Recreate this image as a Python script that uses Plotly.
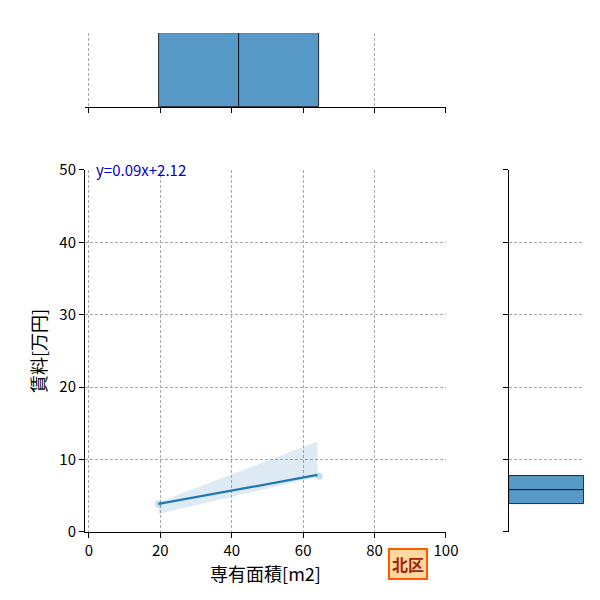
import plotly.graph_objects as go

area = [19.5, 64.5]
rent = [3.9, 7.7]
fit_x = [19.5, 64.0]
fit_y = [3.875, 7.88]
band_x = [19.5, 64.0, 64.0, 19.5]
band_y = [4.1, 12.5, 7.6, 2.5]
hx_edges = [19.5, 42.0, 64.5]
hx_counts = [1, 1]
hy_edges = [3.9, 5.8, 7.7]
hy_counts = [1, 1]

blue = "#5799c7"
font = "Noto Sans CJK JP"
fig = go.Figure()

fig.add_trace(go.Scatter(x=band_x, y=band_y, fill="toself", mode="none",
                         fillcolor="rgba(31,119,180,0.15)", xaxis="x", yaxis="y"))
fig.add_trace(go.Scatter(x=area, y=rent, mode="markers",
                         marker=dict(color="rgba(31,119,180,0.25)", size=7), xaxis="x", yaxis="y"))
fig.add_trace(go.Scatter(x=fit_x, y=fit_y, mode="lines",
                         line=dict(color="#1f77b4", width=2.2), xaxis="x", yaxis="y"))

# top marginal histogram
fig.add_trace(go.Bar(x=[(a + b) / 2 for a, b in zip(hx_edges[:-1], hx_edges[1:])], y=hx_counts,
                     width=[b - a for a, b in zip(hx_edges[:-1], hx_edges[1:])],
                     marker=dict(color=blue, line=dict(color="black", width=0.8)),
                     xaxis="x2", yaxis="y2"))
# right marginal histogram
fig.add_trace(go.Bar(y=[(a + b) / 2 for a, b in zip(hy_edges[:-1], hy_edges[1:])], x=hy_counts,
                     width=[b - a for a, b in zip(hy_edges[:-1], hy_edges[1:])], orientation="h",
                     marker=dict(color=blue, line=dict(color="black", width=0.8)),
                     xaxis="x3", yaxis="y3"))

grid = dict(showgrid=True, gridcolor="#a8a8a8", griddash="3px,2px", gridwidth=0.8, zeroline=False)
axline = dict(showline=True, linecolor="black", ticks="outside", ticklen=5, tickcolor="black",
              automargin=False)

fig.update_layout(
    width=600, height=600, margin=dict(l=77, r=24, t=25, b=76),
    plot_bgcolor="white", paper_bgcolor="white", showlegend=False, bargap=0,
    font=dict(family=font, size=15, color="black"),
    xaxis=dict(domain=[0, 0.7234], range=[-1.1, 100], tickvals=[0, 20, 40, 60, 80, 100],
               title=dict(text="専有面積[m2]", font=dict(size=18), standoff=8), anchor="y", **grid, **axline),
    yaxis=dict(domain=[0, 0.7255], range=[0, 50], tickvals=[0, 10, 20, 30, 40, 50],
               title=dict(text="賃料[万円]", font=dict(size=18), standoff=8), anchor="x", **grid, **axline),
    xaxis2=dict(domain=[0, 0.7234], range=[-1.1, 100], tickvals=[0, 20, 40, 60, 80, 100],
                showticklabels=False, anchor="y2", **grid, **axline),
    yaxis2=dict(domain=[0.8517, 1], range=[0, 1], showticklabels=False, showgrid=False,
                zeroline=False, anchor="x2"),
    xaxis3=dict(domain=[0.8497, 1], range=[0, 1], showticklabels=False, showgrid=False,
                zeroline=False, anchor="y3"),
    yaxis3=dict(domain=[0, 0.7255], range=[0, 50], tickvals=[0, 10, 20, 30, 40, 50],
                showticklabels=False, anchor="x3", **grid, **axline),
    annotations=[
        dict(text="y=0.09x+2.12", xref="x", yref="y", x=1.5, y=50, xanchor="left", yanchor="middle",
             showarrow=False, font=dict(color="#0000cc", size=15)),
        dict(text="<b>北区</b>", xref="paper", yref="paper", x=0.687, y=-0.096, showarrow=False,
             font=dict(color="#a0240a", size=16), bgcolor="#ffd8a0", bordercolor="#ff5a00",
             borderwidth=2, borderpad=2),
    ],
)

fig.write_html("out.html")
